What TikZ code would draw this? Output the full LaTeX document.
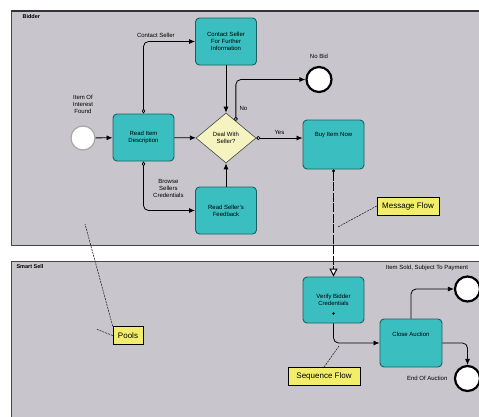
\documentclass[tikz,border=0pt]{standalone}
\usepackage{fontspec}
\setmainfont{Liberation Sans}
\usetikzlibrary{positioning,shapes.geometric,arrows.meta}
\definecolor{poolgray}{HTML}{C8C6CC}
\definecolor{taskteal}{HTML}{3ABEC0}
\definecolor{taskedge}{HTML}{1D5E61}
\definecolor{gatefill}{HTML}{F5F3C0}
\definecolor{notefill}{HTML}{F2EE6C}

\begin{document}
\begin{tikzpicture}[x=1pt,y=-1pt,
    font=\fontsize{6}{7}\selectfont,
    pool/.style={draw=gray!55!black,fill=poolgray,line width=0.6pt},
    task/.style={draw=taskedge,fill=taskteal,line width=0.9pt,rounded corners=4pt,
      minimum width=61pt,minimum height=47pt,align=center,inner sep=1pt},
    gate/.style={diamond,draw=gray!55!black,fill=gatefill,line width=0.6pt,
      minimum width=60pt,minimum height=50pt,inner sep=0pt,align=center},
    startev/.style={circle,draw=gray!70,fill=white,line width=1.2pt,minimum size=24pt,inner sep=0pt},
    endev/.style={circle,draw=black,fill=white,line width=2.2pt,minimum size=25pt,inner sep=0pt},
    note/.style={draw=black,fill=notefill,line width=0.6pt,inner sep=2pt,minimum height=18pt,
      font=\fontsize{8}{9}\selectfont},
    seqflow/.style={line width=0.8pt,-{Latex[length=6pt,width=5pt]}},
    condflow/.style={line width=0.8pt,rounded corners=5pt,
      {Diamond[fill=white,length=5pt,width=3.5pt]}-{Latex[length=6pt,width=5pt]}},
    gateflow/.style={line width=0.8pt,rounded corners=5pt,
      {Circle[fill=white,length=4pt]}-{Latex[length=6pt,width=5pt]}},
    msgflow/.style={line width=1pt,dash pattern=on 9pt off 1.5pt,
      {Circle[fill=white,length=3pt]}-{Triangle[open,fill=white,length=8pt,width=8pt]}},
    assoc/.style={gray!30!black,line width=0.6pt,dash pattern=on 2pt off 1pt},
  ]
  \useasboundingbox (0,0) rectangle (479,416);

  % Bidder pool
  \draw[pool] (11,11) rectangle (492,245);
  \draw[gray!40!black,line width=2pt] (11,11) -- (479,11);
  \node[anchor=west,font=\fontsize{5.5}{6}\selectfont\bfseries] (bidderlbl) at (19,17) {Bidder};

  % Smart Sell pool
  \draw[pool] (11,261) rectangle (492,422);
  \node[anchor=west,font=\fontsize{5.5}{6}\selectfont\bfseries] (smartlbl) at (13,267) {Smart Sell};

  % Bidder activities
  \node[startev] (found) at (83,138) {};
  \node[align=center,above=8pt of found] (foundlbl) {Item Of\\Interest\\Found};
  \node[task] (readdesc) at (143.5,137.5) {Read Item\\Description};
  \node[task] (contact) at (226,41.5) {Contact Seller\\For Further\\Information};
  \node[gate] (gate) at (226,138) {Deal With\\Seller?};
  \node[task] (feedback) at (226,210.5) {Read Seller's\\Feedback};
  \node[task,minimum height=49pt,
    label={[anchor=north,yshift=-9pt]north:Buy Item Now}] (buy) at (333.5,144.5) {};
  \node[endev] (nobid) at (319,79.5) {};
  \node[above=4pt of nobid] (nobidlbl) {No Bid};

  % Smart Sell activities
  \node[task,minimum height=46pt] (verify) at (333.5,300) {Verify Bidder\\Credentials};
  \node[task,minimum width=62pt,minimum height=48pt,
    label={[anchor=north,yshift=-10pt]north:Close Auction}] (closeauc) at (411,343) {};
  \node[endev] (sold) at (467.5,289) {};
  \node (soldlbl) at (427,268) {Item Sold, Subject To Payment};
  \node[endev] (auctionend) at (467.5,378.5) {};
  \node[left=3pt of auctionend] (endlbl) {End Of Auction};

  % flows
  \draw[seqflow] (found) -- (readdesc);
  \draw[seqflow] (readdesc) -- (gate);
  \draw[condflow] (readdesc.north) |- (contact.west)
    node[pos=0.62,above] (contactlbl) {Contact Seller};
  \draw[condflow] (readdesc.south) |- (feedback.west)
    node[pos=0.28,right=6pt,align=center] (browselbl) {Browse\\Sellers\\Credentials};
  \draw[seqflow] (contact) -- (gate);
  \draw[seqflow] (feedback) -- (gate);
  \draw[gateflow] (gate.east) -- (gate.east -| buy.west)
    node[midway,above] (yeslbl) {Yes};
  \draw[gateflow] (gate.60) |- (nobid.west)
    node[pos=0.15,right] (nolbl) {No};
  \draw[msgflow] (buy.south) -- (verify.north);
  \fill[black] (verify.south) ++(0,-10) circle[radius=1.3pt];
  \draw[seqflow,rounded corners=5pt] (verify.south) |- (closeauc.west);
  \draw[seqflow,rounded corners=5pt] (closeauc.north) |- (sold.west);
  \draw[seqflow,rounded corners=5pt] (closeauc.east) -| (auctionend.north);

  % annotations
  \node[note,minimum width=62pt] (msgnote) at (408,206) {Message Flow};
  \node[note,minimum width=30pt] (poolnote) at (128,335.5) {Pools};
  \node[note,minimum width=72pt] (seqnote) at (324,376.5) {Sequence Flow};
  \coordinate (msgpt) at (338,227);
  \coordinate (toppoolpt) at (85,224);
  \coordinate (botpoolpt) at (96,329);
  \coordinate (seqpt) at (339,346);
  \draw[assoc] (msgnote.west) -- (msgpt);
  \draw[assoc] (poolnote.north west) -- (toppoolpt);
  \draw[assoc] (poolnote.west) -- (botpoolpt);
  \draw[assoc] (seqnote.north) -- (seqpt);
\end{tikzpicture}
\end{document}
